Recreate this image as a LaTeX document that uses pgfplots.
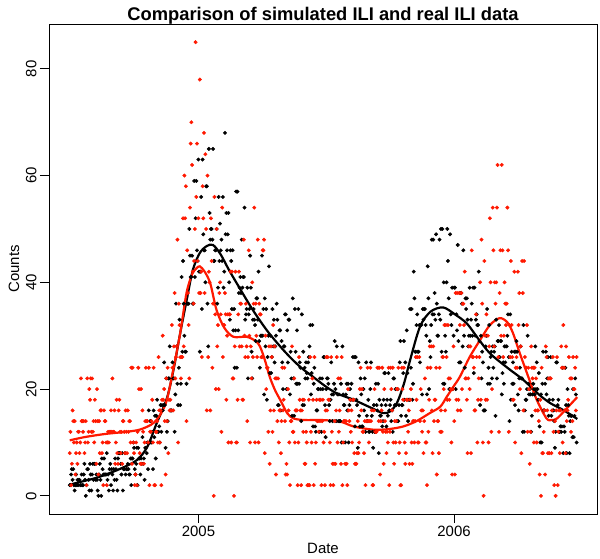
\documentclass[border=0pt]{standalone}
\usepackage{fontspec}
\setmainfont{Liberation Sans}
\usepackage{pgfplots}
\pgfplotsset{compat=1.18}
\definecolor{ilired}{RGB}{255,24,0}
\begin{document}
\begin{tikzpicture}
\useasboundingbox (-49bp,-45bp) rectangle (551bp,514bp);
\begin{axis}[
  at={(0,0)}, anchor=south west,
  scale only axis, width=548bp, height=490bp,
  xmin=-20.7, xmax=763.2, ymin=-3.4, ymax=88.4,
  xtick={193.1,558.7}, xticklabels={2005,2006},
  ytick={0,20,40,60,80},
  xtick pos=bottom, ytick pos=left,
  tick align=outside, major tick length=9bp,
  every tick/.style={black, line width=0.8bp},
  axis line style={line width=0.9bp},
  /pgf/number format/assume math mode=true,
  tick label style={font=\fontsize{15}{18}\selectfont},
  yticklabel style={rotate=90, anchor=south},
  title={Comparison of simulated ILI and real ILI data},
  title style={font=\fontsize{18.4}{22}\selectfont\bfseries, at={(axis description cs:0.5,1)}, anchor=base, yshift=-2.5bp},
  xlabel={Date},
  xlabel style={font=\fontsize{15}{18}\selectfont, at={(axis description cs:0.5,-0.0796)}, anchor=base},
  ylabel={Counts},
  ylabel style={font=\fontsize{15}{18}\selectfont, at={(axis description cs:-0.0639,0.5)}, anchor=center},
]
% simulated ILI (black points), one value per day
\addplot[black, only marks, mark=*, mark size=1.75bp]
 table[row sep=\\, header=false, x expr=\coordindex+9, y index=0] {
2\\2\\
4\\5\\3\\5\\2\\1\\2\\4\\2\\3\\
2\\3\\3\\2\\2\\4\\2\\2\\4\\6\\
3\\0\\2\\5\\5\\3\\1\\6\\4\\1\\
4\\6\\3\\6\\6\\3\\4\\3\\1\\0\\
4\\6\\3\\0\\7\\5\\4\\7\\4\\4\\
4\\8\\3\\4\\1\\5\\6\\2\\5\\4\\
1\\5\\3\\7\\5\\3\\1\\7\\8\\8\\
8\\6\\4\\8\\1\\5\\5\\8\\4\\5\\
5\\6\\5\\4\\4\\7\\2\\7\\7\\10\\
9\\5\\4\\6\\9\\2\\9\\7\\7\\4\\
7\\6\\11\\6\\7\\3\\9\\9\\8\\10\\
5\\16\\10\\14\\10\\10\\12\\5\\16\\11\\
15\\7\\15\\18\\12\\12\\13\\10\\17\\12\\
17\\16\\17\\25\\17\\9\\22\\12\\14\\22\\
22\\28\\16\\16\\16\\25\\22\\22\\12\\19\\
36\\28\\21\\17\\24\\33\\17\\21\\41\\27\\
44\\36\\30\\27\\27\\21\\36\\36\\36\\50\\
45\\41\\41\\45\\36\\36\\59\\41\\52\\59\\
46\\44\\63\\42\\27\\42\\56\\35\\63\\49\\
46\\46\\40\\58\\58\\36\\28\\65\\53\\48\\
50\\50\\48\\65\\44\\44\\46\\46\\50\\36\\
39\\56\\44\\51\\46\\48\\44\\56\\39\\42\\
68\\49\\53\\46\\49\\53\\40\\33\\46\\44\\
35\\46\\31\\35\\24\\31\\57\\24\\57\\31\\
38\\39\\41\\38\\48\\39\\41\\41\\54\\33\\
34\\35\\39\\22\\34\\35\\45\\39\\27\\22\\
33\\35\\33\\32\\29\\37\\37\\33\\42\\29\\
24\\30\\30\\45\\30\\35\\19\\37\\28\\35\\
18\\26\\30\\43\\23\\30\\23\\26\\35\\28\\
33\\25\\28\\30\\36\\33\\17\\17\\31\\31\\
16\\29\\25\\20\\28\\28\\34\\34\\20\\31\\
25\\33\\33\\19\\27\\22\\15\\37\\22\\15\\
35\\27\\21\\31\\21\\35\\21\\25\\24\\14\\
34\\17\\27\\17\\24\\22\\25\\23\\22\\25\\
26\\28\\32\\19\\23\\32\\13\\21\\24\\13\\
12\\16\\16\\20\\20\\12\\22\\20\\12\\22\\
20\\26\\26\\17\\11\\20\\22\\22\\21\\17\\
14\\18\\25\\19\\14\\19\\21\\29\\20\\14\\
28\\19\\14\\19\\14\\14\\21\\10\\28\\19\\
17\\17\\10\\19\\21\\16\\21\\10\\17\\20\\
18\\21\\18\\26\\18\\26\\13\\26\\18\\17\\
9\\25\\15\\13\\22\\19\\13\\13\\20\\16\\
22\\12\\25\\15\\14\\18\\12\\12\\20\\25\\
15\\12\\9\\17\\12\\12\\21\\17\\16\\21\\
8\\18\\15\\15\\17\\13\\14\\18\\23\\23\\
17\\13\\18\\15\\23\\16\\17\\18\\14\\16\\
12\\22\\22\\17\\20\\17\\14\\20\\14\\17\\
25\\29\\15\\17\\17\\23\\29\\18\\25\\15\\
31\\23\\14\\18\\18\\35\\24\\35\\18\\21\\
42\\37\\27\\27\\32\\34\\27\\27\\32\\25\\
32\\32\\19\\35\\33\\35\\35\\32\\30\\19\\
43\\37\\20\\29\\26\\32\\48\\34\\48\\34\\
38\\33\\49\\36\\30\\30\\34\\48\\33\\50\\
27\\50\\21\\40\\21\\30\\27\\40\\50\\44\\
37\\20\\49\\34\\32\\39\\20\\30\\39\\39\\
20\\34\\31\\47\\29\\25\\38\\25\\38\\36\\
28\\46\\30\\24\\37\\35\\37\\33\\28\\30\\
39\\30\\33\\36\\30\\39\\23\\39\\30\\33\\
34\\32\\32\\42\\29\\17\\30\\22\\27\\25\\
16\\16\\16\\28\\30\\35\\21\\24\\32\\21\\
26\\27\\22\\28\\24\\27\\28\\15\\33\\22\\
29\\29\\32\\26\\29\\29\\19\\23\\25\\21\\
28\\25\\28\\28\\30\\34\\26\\14\\34\\18\\
27\\21\\25\\21\\27\\17\\27\\29\\27\\19\\
16\\22\\24\\28\\22\\22\\12\\32\\12\\16\\
18\\18\\20\\30\\21\\19\\20\\19\\12\\15\\
19\\21\\20\\19\\28\\20\\25\\20\\18\\23\\
13\\10\\19\\10\\21\\27\\16\\16\\21\\27\\
19\\22\\26\\15\\18\\22\\26\\15\\16\\18\\
16\\14\\9\\12\\25\\25\\17\\18\\12\\12\\
13\\12\\13\\24\\8\\13\\12\\24\\17\\8\\
20\\17\\15\\8\\14\\15\\15\\11\\20\\11\\
15\\22\\19\\10\\
};
% real ILI (red points), one value per day
\addplot[ilired, only marks, mark=*, mark size=1.75bp]
 table[row sep=\\, header=false, x expr=\coordindex+9, y index=0] {
8\\12\\
2\\6\\16\\14\\10\\14\\4\\8\\10\\6\\
12\\12\\8\\10\\22\\14\\14\\12\\14\\8\\
10\\14\\2\\22\\10\\12\\20\\18\\22\\12\\
22\\12\\14\\10\\18\\14\\6\\20\\14\\4\\
14\\8\\16\\16\\8\\10\\2\\16\\14\\14\\
10\\2\\10\\12\\10\\12\\12\\16\\12\\22\\
12\\12\\16\\6\\10\\18\\8\\6\\16\\18\\
12\\8\\12\\6\\14\\14\\12\\8\\16\\12\\
8\\16\\12\\14\\14\\10\\24\\6\\24\\10\\
8\\2\\4\\10\\2\\12\\24\\20\\8\\6\\
20\\6\\16\\12\\6\\10\\14\\24\\14\\14\\
10\\24\\2\\12\\12\\14\\18\\10\\24\\2\\
2\\12\\12\\14\\10\\26\\16\\10\\16\\2\\
18\\30\\18\\20\\14\\4\\22\\14\\24\\8\\
18\\16\\18\\16\\32\\24\\16\\28\\38\\22\\
26\\28\\48\\10\\36\\32\\26\\22\\26\\26\\
52\\28\\60\\52\\58\\14\\46\\38\\32\\22\\
54\\66\\70\\62\\42\\36\\44\\50\\85\\56\\
66\\44\\52\\38\\78\\38\\42\\26\\58\\52\\
68\\38\\64\\50\\16\\60\\26\\42\\40\\16\\
52\\44\\24\\36\\0\\56\\34\\20\\50\\28\\
32\\20\\38\\40\\34\\12\\54\\26\\32\\32\\
38\\34\\18\\30\\34\\10\\34\\34\\42\\10\\
42\\22\\22\\0\\28\\42\\10\\10\\18\\34\\
42\\28\\36\\36\\28\\18\\18\\48\\30\\26\\
36\\28\\14\\26\\46\\30\\10\\28\\22\\40\\
26\\36\\54\\10\\36\\30\\26\\48\\10\\36\\
34\\34\\26\\26\\46\\46\\48\\8\\30\\20\\
24\\24\\12\\28\\6\\16\\28\\26\\12\\32\\
16\\28\\22\\4\\22\\14\\22\\10\\16\\16\\
8\\14\\24\\16\\18\\24\\14\\4\\6\\4\\
20\\16\\10\\2\\14\\14\\28\\12\\12\\22\\
10\\16\\16\\16\\2\\10\\26\\18\\16\\2\\
16\\18\\12\\18\\6\\6\\12\\10\\2\\2\\
18\\2\\26\\12\\10\\22\\18\\2\\26\\6\\
10\\18\\14\\14\\12\\18\\14\\18\\2\\14\\
18\\10\\12\\2\\16\\26\\16\\26\\18\\18\\
10\\2\\26\\12\\6\\2\\6\\14\\6\\16\\
26\\10\\22\\12\\16\\22\\6\\26\\2\\10\\
14\\14\\6\\14\\6\\2\\20\\16\\14\\18\\
12\\16\\10\\18\\18\\8\\6\\6\\6\\8\\
14\\8\\10\\20\\24\\16\\20\\12\\12\\8\\
14\\2\\14\\14\\24\\14\\10\\14\\24\\14\\
16\\2\\2\\16\\20\\12\\12\\12\\24\\24\\
14\\24\\4\\14\\16\\24\\12\\6\\20\\14\\
12\\8\\12\\10\\24\\2\\12\\24\\20\\16\\
24\\10\\6\\14\\10\\14\\20\\20\\24\\8\\
10\\2\\2\\24\\20\\18\\24\\10\\6\\8\\
18\\18\\12\\16\\6\\18\\20\\10\\6\\14\\
14\\10\\14\\26\\18\\26\\10\\10\\26\\14\\
20\\16\\12\\16\\8\\14\\22\\10\\10\\2\\
24\\12\\18\\28\\24\\28\\16\\8\\28\\14\\
18\\18\\24\\4\\14\\14\\8\\24\\12\\16\\
12\\26\\26\\20\\32\\16\\32\\26\\18\\32\\
22\\18\\22\\20\\10\\4\\20\\28\\14\\4\\
38\\18\\38\\16\\18\\38\\32\\16\\38\\20\\
36\\36\\32\\42\\22\\22\\18\\8\\22\\28\\
20\\28\\8\\46\\26\\26\\24\\16\\16\\34\\
26\\10\\18\\22\\26\\40\\18\\48\\36\\10\\
0\\44\\30\\18\\34\\18\\30\\10\\28\\52\\
40\\12\\20\\54\\46\\28\\40\\36\\40\\54\\
62\\26\\12\\38\\46\\30\\62\\46\\26\\30\\
40\\36\\32\\36\\54\\46\\12\\32\\26\\44\\
32\\26\\18\\18\\42\\10\\24\\26\\24\\42\\
32\\38\\20\\28\\8\\44\\38\\16\\44\\26\\
24\\24\\32\\12\\24\\20\\6\\12\\28\\24\\
22\\24\\10\\24\\16\\22\\10\\16\\16\\14\\
4\\18\\0\\24\\8\\8\\12\\16\\4\\28\\
26\\16\\8\\22\\8\\22\\22\\8\\16\\26\\
12\\2\\14\\0\\16\\26\\2\\12\\16\\8\\
16\\28\\24\\10\\32\\24\\16\\8\\28\\14\\
16\\18\\26\\4\\22\\12\\22\\14\\26\\20\\
20\\24\\16\\26\\
};
% smoothed curves
\addplot[black, line width=2.2bp, smooth, tension=0.5] coordinates {
(9,2.1) (30,2.8) (50,3.5) (80,5) (105,6.7) (120,9.2) (133,13.5) (148,18.3) (158,24) (167,30.5) (176,36.5) (185,42.3) (195,45.5) (205,46.8) (214,47) (225,45.2) (236,42.5) (248,39.8) (270,35) (291,31) (310,28) (324,26) (340,24) (357,22.3) (374,20.6) (391,19.2) (415,18) (440,16.5) (457,15.5) (467,15.8) (477,17.4) (487,21) (496,25.5) (510,31.7) (525,34.5) (543,35.3) (560,34) (577,32.3) (593,29.5) (610,26.7) (635,24) (658,21.7) (680,19) (696,17.4) (716,16) (735,14.4)
};
\addplot[ilired, line width=2.2bp, smooth, tension=0.5] coordinates {
(9,10.4) (30,11) (60,11.6) (90,12) (109,12.4) (125,13.3) (133,14.2) (141,15.8) (148,18) (157,23.6) (167,30.5) (176,38) (184,41.5) (190,42.6) (195,43) (202,42) (210,39.8) (219,34.8) (230,31.5) (243,29.8) (262,29.8) (275,29) (281,28) (288,25.5) (295,22.3) (303,19.7) (310,18) (320,15.5) (329,14.5) (345,14.2) (370,14.2) (396,13.9) (415,13) (443,12.4) (465,12.5) (486,13) (505,14) (524,15.5) (539,16.7) (548,18.5) (558,20.5) (567,22.3) (581,26) (596,29.2) (610,32) (624,33.3) (635,32.5) (643,30.5) (652,27) (663,23) (677,18) (691,14.5) (698,14.2) (706,14.5) (720,16.4) (735,18.5)
};
\end{axis}
\end{tikzpicture}
\end{document}
